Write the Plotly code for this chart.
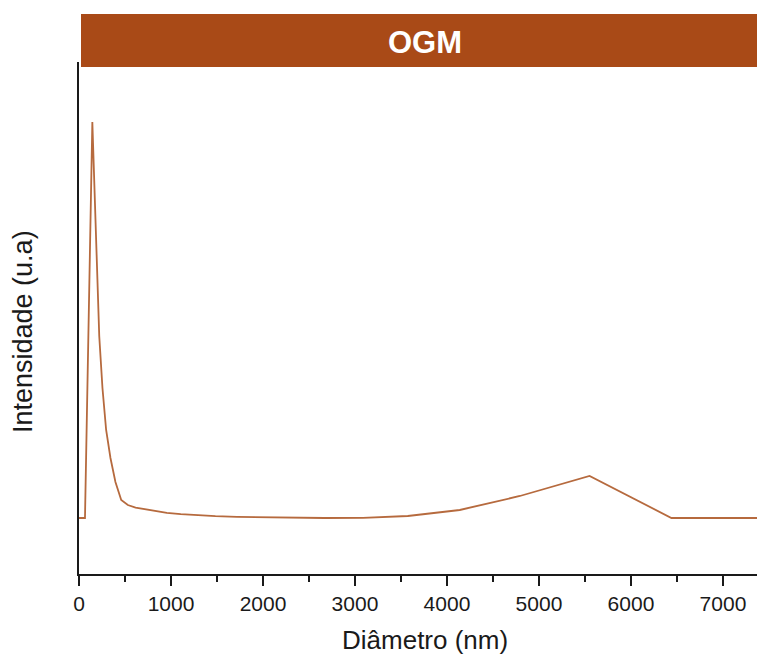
import plotly.graph_objects as go

# Data (diameter in nm, intensity in arbitrary units)
diametro = [0, 65, 145, 190, 220, 255, 295, 342, 396, 459, 531, 615, 712, 825, 955,
            1106, 1280, 1483, 1717, 1988, 2302, 2666, 3087, 3574, 4139, 4793, 5550,
            6440, 7370]
intensidade = [0, 0, 19.8, 12.8, 9.1, 6.5, 4.4, 3.0, 1.8, 0.9, 0.65, 0.52, 0.45, 0.35,
               0.26, 0.19, 0.13, 0.09, 0.06, 0.04, 0.02, 0.0, 0.01, 0.1, 0.4, 1.1, 2.1,
               0, 0]
x_ticks = [0, 1000, 2000, 3000, 4000, 5000, 6000, 7000]
x_ticklabels = ["0", "1000", "2000", "3000", "4000", "5000", "6000", "7000"]
titulo = "OGM"
x_titulo = "Diâmetro (nm)"
y_titulo = "Intensidade (u.a)"

FONT = "Liberation Sans, Arial, sans-serif"
LINE_COLOR = "#b66a3e"
BAR_COLOR = "#a94a17"
W, H = 757, 655
L, R, T, B = 79, 0, 62, 81
PW, PH = W - L - R, H - T - B


def px(xp):
    return (xp - L) / PW


def py(yp):
    return (H - B - yp) / PH


fig = go.Figure()
fig.add_trace(go.Scatter(
    x=diametro, y=intensidade, mode="lines",
    line=dict(color=LINE_COLOR, width=1.8),
    showlegend=False, hoverinfo="skip",
))

fig.update_layout(
    width=W, height=H,
    margin=dict(l=L, r=R, t=T, b=B, pad=0),
    paper_bgcolor="white", plot_bgcolor="white",
    font=dict(family=FONT, color="#1a1a1a"),
    xaxis=dict(
        range=[0, 7370], showgrid=False, zeroline=False,
        showline=True, linecolor="#1a1a1a", linewidth=1.8,
        ticks="outside", ticklen=10, tickwidth=1.8, tickcolor="#1a1a1a",
        tickvals=x_ticks, ticktext=x_ticklabels,
        tickfont=dict(size=21, family=FONT, color="#1a1a1a"),
        minor=dict(dtick=500, ticks="outside", ticklen=6, tickwidth=1.6,
                   tickcolor="#1a1a1a", showgrid=False),
    ),
    yaxis=dict(
        range=[-2.8, 22.8], showgrid=False, zeroline=False,
        showline=True, linecolor="#1a1a1a", linewidth=1.8,
        showticklabels=False, ticks="",
    ),
    shapes=[dict(
        type="rect", xref="paper", yref="paper",
        x0=px(81), x1=1.0, y0=py(67), y1=py(14),
        fillcolor=BAR_COLOR, line=dict(width=0), layer="above",
    )],
    annotations=[
        dict(text="<b>" + titulo + "</b>", xref="paper", yref="paper",
             x=px(425), y=py(42), xanchor="center", yanchor="middle",
             showarrow=False, font=dict(size=31, family=FONT, color="white")),
        dict(text=x_titulo, xref="paper", yref="paper",
             x=px(425), y=py(640), xanchor="center", yanchor="middle",
             showarrow=False, font=dict(size=26, family=FONT, color="#1a1a1a")),
        dict(text=y_titulo, xref="paper", yref="paper", textangle=-90,
             x=px(23), y=py(332), xanchor="center", yanchor="middle",
             showarrow=False, font=dict(size=27, family=FONT, color="#1a1a1a")),
    ],
)

fig.write_html("out.html")
